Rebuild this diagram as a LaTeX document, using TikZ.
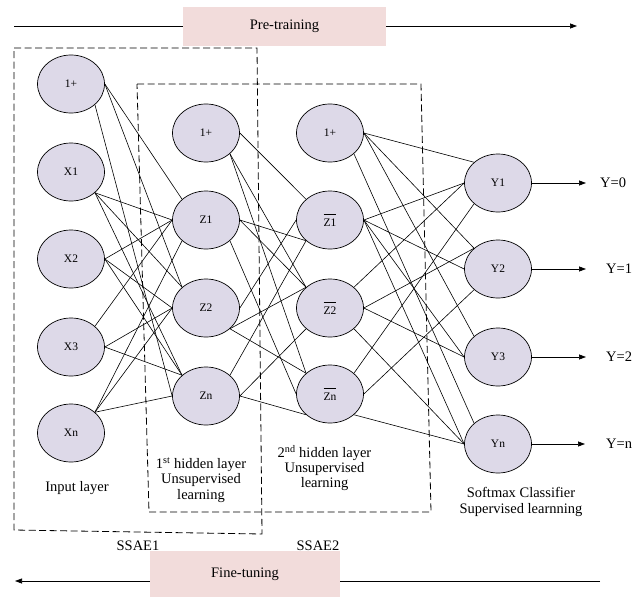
\documentclass[tikz,border=0pt]{standalone}
\usepackage{fontspec}
\setmainfont{Liberation Serif}
\usetikzlibrary{shapes.geometric,arrows.meta,backgrounds}
\definecolor{nodefill}{RGB}{221,217,232}
\definecolor{barfill}{RGB}{242,220,219}
\newcommand\zbar[1]{\leavevmode\vbox{\hrule height 0.7pt\vskip 4pt\hbox{#1}}}
\begin{document}
\begin{tikzpicture}[x=1pt,y=-1pt,
  neuron/.style={ellipse,draw=black,line width=0.7pt,fill=nodefill,minimum width=67pt,minimum height=58pt,inner sep=0pt,font=\fontsize{11.5}{13}\selectfont},
  conn/.style={line width=0.6pt},
  dbox/.style={dash pattern=on 7pt off 3.5pt,line width=0.8pt},
  lbl/.style={font=\fontsize{14.5}{15.5}\selectfont,align=center,inner sep=0pt},
  bar/.style={fill=barfill,draw=none,inner sep=0pt,font=\fontsize{14.5}{16}\selectfont},
  arr/.style={line width=0.7pt,-{Triangle[length=7pt,width=5pt]}},
  ]
\useasboundingbox (0,0) rectangle (634,597);

% training arrows and bars
\coordinate (ptL) at (14,26);
\coordinate (ptR) at (577,26);
\draw[arr] (ptL) -- (ptR);
\node[bar,minimum width=203pt,minimum height=39pt] (pre) at (284.5,26.5) {Pre-training};
\coordinate (ftR) at (600,581);
\coordinate (ftL) at (15,581);
\draw[arr] (ftR) -- (ftL);
\node[bar,minimum width=190pt,minimum height=46pt] (fine) at (245,574) {Fine-tuning};

% dashed groups
\draw[dbox] (14,48) -- (257,48) -- (262,534) -- (14,530) -- cycle;
\draw[dbox] (137,84) -- (421,84) -- (431,512) -- (149,512) -- cycle;

% nodes
\node[neuron] (i0) at (71,84) {1+};
\node[neuron] (i1) at (71,172) {X1};
\node[neuron] (i2) at (71,259) {X2};
\node[neuron] (i3) at (71,347) {X3};
\node[neuron] (i4) at (71,433) {Xn};

\node[neuron] (h0) at (206,133) {1+};
\node[neuron] (h1) at (206,220) {Z1};
\node[neuron] (h2) at (206,308) {Z2};
\node[neuron] (h3) at (206,396) {Zn};

\node[neuron] (g0) at (330,133) {1+};
\node[neuron] (g1) at (330,220) {\zbar{Z1}};
\node[neuron] (g2) at (330,308) {\zbar{Z2}};
\node[neuron] (g3) at (330,394) {\zbar{Zn}};

\node[neuron] (o1) at (498,183) {Y1};
\node[neuron] (o2) at (498,269) {Y2};
\node[neuron] (o3) at (498,357) {Y3};
\node[neuron] (o4) at (498,444) {Yn};

% connectors
\begin{pgfonlayer}{background}
\draw[conn] (i0.east) -- (h1.north west);
\draw[conn] (i0.east) -- (h2.north west);
\draw[conn] (i0.south east) -- (h3.west);
\draw[conn] (i1.south east) -- (h1.west);
\draw[conn] (i1.south east) -- (h2.north west);
\draw[conn] (i1.south east) -- (h3.north west);
\draw[conn] (i2.east) -- (h1.west);
\draw[conn] (i2.east) -- (h2.west);
\draw[conn] (i2.east) -- (h3.north west);
\draw[conn] (i3.north east) -- (h1.west);
\draw[conn] (i3.east) -- (h2.west);
\draw[conn] (i3.east) -- (h3.north west);
\draw[conn] (i4.north east) -- (h1.south west);
\draw[conn] (i4.north east) -- (h2.west);
\draw[conn] (i4.north east) -- (h3.west);

\draw[conn] (h0.east) -- (g1.north west);
\draw[conn] (h0.south east) -- (g2.north west);
\draw[conn] (h0.south east) -- (g3.north west);
\draw[conn] (h1.east) -- (g1.south west);
\draw[conn] (h1.east) -- (g2.north west);
\draw[conn] (h1.south east) -- (g3.west);
\draw[conn] (h2.east) -- (g1.west);
\draw[conn] (h2.south east) -- (g2.north west);
\draw[conn] (h2.south east) -- (g3.north west);
\draw[conn] (h3.north east) -- (g1.south west);
\draw[conn] (h3.east) -- (g2.south west);
\draw[conn] (h3.east) -- (g3.south west);

\draw[conn] (g0.east) -- (o1.north west);
\draw[conn] (g0.east) -- (o2.north west);
\draw[conn] (g0.east) -- (o3.north west);
\draw[conn] (g0.south east) -- (o4.north west);
\draw[conn] (g1.east) -- (o1.west);
\draw[conn] (g1.east) -- (o2.west);
\draw[conn] (g1.east) -- (o3.west);
\draw[conn] (g1.east) -- (o4.west);
\draw[conn] (g2.north east) -- (o1.west);
\draw[conn] (g2.east) -- (o2.north west);
\draw[conn] (g2.east) -- (o3.west);
\draw[conn] (g2.south east) -- (o4.west);
\draw[conn] (g3.north east) -- (o1.south west);
\draw[conn] (g3.east) -- (o2.south west);
\draw[conn] (g3.south east) -- (o4.west);
\end{pgfonlayer}

% outputs
\node[lbl,anchor=west] (y0) at (600,183) {Y=0};
\node[lbl,anchor=west] (y1) at (606,269) {Y=1};
\node[lbl,anchor=west] (y2) at (606,357) {Y=2};
\node[lbl,anchor=west] (y3) at (606,444) {Y=n};
\draw[arr] (o1.east) -- ([xshift=-14pt]y0.west);
\draw[arr] (o2.east) -- ([xshift=-20pt]y1.west);
\draw[arr] (o3.east) -- ([xshift=-20pt]y2.west);
\draw[arr] (o4.east) -- ([xshift=-21pt]y3.west);

% texts
\node[lbl] (tin) at (77,488) {Input layer};
\node[lbl] (th1) at (201,480) {1\textsuperscript{st} hidden layer\\Unsupervised\\learning};
\node[lbl,font=\fontsize{14.5}{15}\selectfont] (th2) at (324.5,468) {2\textsuperscript{nd} hidden layer\\Unsupervised\\learning};
\node[lbl,font=\fontsize{14.5}{16}\selectfont] (tsm) at (521,502) {Softmax Classifier\\Supervised learnning};
\node[lbl] (ss1) at (138,546) {SSAE1};
\node[lbl] (ss2) at (318,546) {SSAE2};
\end{tikzpicture}
\end{document}
